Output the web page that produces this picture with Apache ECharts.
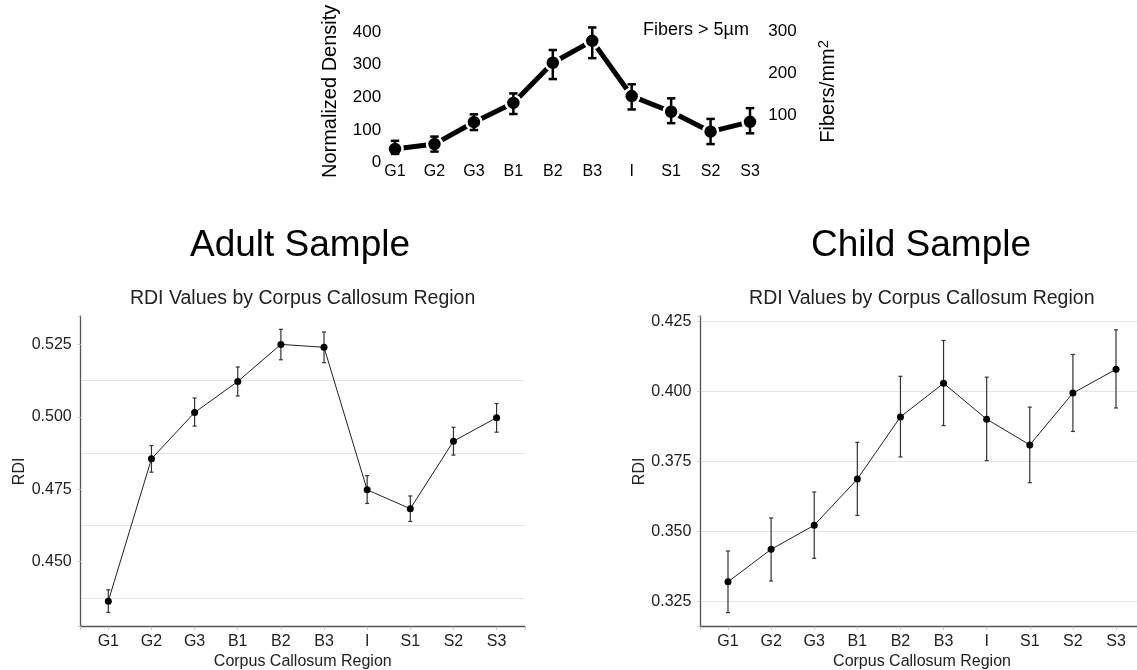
<!DOCTYPE html>
<html lang="en">
<head>
    <meta charset="UTF-8">
    <script src="https://cdn.jsdelivr.net/npm/echarts@6/dist/echarts.min.js"></script>
    <title>RDI by Corpus Callosum Region</title>
    <style>
        html, body { margin: 0; padding: 0; background: #fff; }
        #main { width: 1137px; height: 670px; }
    </style>
</head>
<body>
<div id="main"></div>
<script>
    // regions along the corpus callosum
    var regions = ['G1', 'G2', 'G3', 'B1', 'B2', 'B3', 'I', 'S1', 'S2', 'S3'];

    // top panel: fibers > 5um, normalized density
    var fiberDensity = [42, 57, 124, 183, 306, 373, 204, 156, 95, 125];
    var fiberLow = [27, 34, 100, 149, 256, 320, 163, 121, 57, 90];
    var fiberHigh = [67, 80, 148, 212, 345, 414, 240, 197, 134, 167];

    // adult sample RDI
    var adultRdi = [0.4364, 0.4855, 0.5015, 0.5122, 0.5250, 0.5240, 0.4748, 0.4683, 0.4916, 0.4997];
    var adultLow = [0.4325, 0.4809, 0.4968, 0.5072, 0.5197, 0.5187, 0.4701, 0.4639, 0.4868, 0.4947];
    var adultHigh = [0.4403, 0.4901, 0.5065, 0.5172, 0.5302, 0.5293, 0.4797, 0.4727, 0.4964, 0.5046];

    // child sample RDI
    var childRdi = [0.3321, 0.3437, 0.3523, 0.3688, 0.3910, 0.4030, 0.3902, 0.3810, 0.3995, 0.4080];
    var childLow = [0.3211, 0.3324, 0.3405, 0.3558, 0.3767, 0.3879, 0.3754, 0.3675, 0.3858, 0.3942];
    var childHigh = [0.3431, 0.3549, 0.3642, 0.3819, 0.4055, 0.4183, 0.4052, 0.3945, 0.4133, 0.4221];

    var font = 'Liberation Sans, Arial, Helvetica, sans-serif';

    function points(vals) {
        return vals.map(function (v, i) { return [i, v]; });
    }
    function bars(lo, hi) {
        return lo.map(function (v, i) { return [i, v, hi[i]]; });
    }
    function regionLabel(v) {
        var i = Math.round(v);
        return (Math.abs(v - i) < 1e-6 && regions[i]) ? regions[i] : '';
    }
    function stepLabel(step, digits) {
        return function (v) {
            var k = Math.round(v / step);
            return Math.abs(v / step - k) < 1e-6 ? v.toFixed(digits) : '';
        };
    }

    // error bars drawn with the axes' own coord()
    function errorBar(cap, width, color) {
        return function (params, api) {
            var top = api.coord([api.value(0), api.value(2)]);
            var bot = api.coord([api.value(0), api.value(1)]);
            var st = { stroke: color, lineWidth: width };
            return {
                type: 'group',
                children: [
                    { type: 'line', shape: { x1: top[0], y1: top[1], x2: bot[0], y2: bot[1] }, style: st },
                    { type: 'line', shape: { x1: top[0] - cap, y1: top[1], x2: top[0] + cap, y2: top[1] }, style: st },
                    { type: 'line', shape: { x1: bot[0] - cap, y1: bot[1], x2: bot[0] + cap, y2: bot[1] }, style: st }
                ]
            };
        };
    }

    // x axis for the RDI panels
    function rdiXAxis(grid, max) {
        return {
            type: 'value', gridIndex: grid, min: -0.64, max: max,
            minInterval: 1, maxInterval: 1,
            name: 'Corpus Callosum Region', nameLocation: 'middle', nameGap: 27,
            nameTextStyle: { fontFamily: font, fontSize: 16, color: '#222' },
            axisLine: { show: true, onZero: false, lineStyle: { color: '#555', width: 1.3 } },
            axisTick: { show: true, length: 3, lineStyle: { color: '#c8c8c8' } },
            axisLabel: { margin: 7, fontFamily: font, fontSize: 16, color: '#222', formatter: regionLabel },
            splitLine: { show: false }
        };
    }
    // main y axis (labels) + helper y axis (light grid lines half way between labels)
    function rdiYAxes(grid, min, max) {
        return [{
            type: 'value', gridIndex: grid, min: min, max: max,
            minInterval: 0.025, maxInterval: 0.025,
            name: 'RDI', nameLocation: 'middle', nameGap: 52,
            nameTextStyle: { fontFamily: font, fontSize: 16, color: '#222' },
            axisLine: { show: true, onZero: false, lineStyle: { color: '#555', width: 1.3 } },
            axisTick: { show: true, length: 3, lineStyle: { color: '#c8c8c8' } },
            axisLabel: { margin: 9, fontFamily: font, fontSize: 16, color: '#222', formatter: stepLabel(0.025, 3) },
            splitLine: { show: false }
        }, {
            type: 'value', gridIndex: grid, min: min, max: max,
            minInterval: 0.0125, maxInterval: 0.0125,
            axisLine: { show: false, onZero: false }, axisTick: { show: false }, axisLabel: { show: false },
            splitLine: { show: true, showMinLine: false, showMaxLine: false,
                lineStyle: { color: ['#e6e6e6', 'rgba(0,0,0,0)'], width: 1 } }
        }];
    }

    var chart = echarts.init(document.getElementById('main'));

    var option = {
        animation: false,
        backgroundColor: '#fff',
        title: [
            { text: 'Adult Sample', left: 300, top: 227, textAlign: 'center', padding: 0,
              textStyle: { fontFamily: font, fontSize: 37, fontWeight: 'normal', color: '#000' } },
            { text: 'Child Sample', left: 921, top: 227, textAlign: 'center', padding: 0,
              textStyle: { fontFamily: font, fontSize: 37, fontWeight: 'normal', color: '#000' } },
            { text: 'RDI Values by Corpus Callosum Region', left: 302.6, top: 288.5, textAlign: 'center', padding: 0,
              textStyle: { fontFamily: font, fontSize: 19.5, fontWeight: 'normal', color: '#222' } },
            { text: 'RDI Values by Corpus Callosum Region', left: 921.8, top: 288.5, textAlign: 'center', padding: 0,
              textStyle: { fontFamily: font, fontSize: 19.5, fontWeight: 'normal', color: '#222' } },
            { text: 'Fibers > 5µm', left: 643, top: 21, padding: 0,
              textStyle: { fontFamily: font, fontSize: 18, fontWeight: 'normal', color: '#000' } }
        ],
        grid: [
            { left: 383.2, right: 371.2, top: 20, bottom: 507.3, outerBoundsMode: 'none' },
            { left: 80.7, right: 612.2, top: 316, bottom: 43.3, outerBoundsMode: 'none' },
            { left: 700.4, right: -6.6, top: 316, bottom: 43.3, outerBoundsMode: 'none' }
        ],
        xAxis: [
            {
                type: 'value', gridIndex: 0, min: -0.3, max: 9.4,
                minInterval: 1, maxInterval: 1,
                axisLine: { show: false, onZero: false }, axisTick: { show: false }, splitLine: { show: false },
                axisLabel: { margin: 1, fontFamily: font, fontSize: 16, color: '#000', formatter: regionLabel }
            },
            rdiXAxis(1, 9.654),
            rdiXAxis(2, 9.64)
        ],
        yAxis: [
            {
                type: 'value', gridIndex: 0, min: 0, max: 436.8, interval: 100,
                name: 'Normalized Density', nameLocation: 'middle', nameGap: 43,
                nameTextStyle: { fontFamily: font, fontSize: 20, color: '#000' },
                axisLine: { show: false, onZero: false }, axisTick: { show: false }, splitLine: { show: false },
                axisLabel: { margin: 2, fontFamily: font, fontSize: 17, color: '#000', formatter: stepLabel(100, 0) }
            },
            {
                type: 'value', gridIndex: 0, position: 'right', min: -14.6, max: 328,
                minInterval: 100, maxInterval: 100,
                name: '{b|Fibers/mm}{s|2}', nameLocation: 'middle', nameGap: 51, nameRotate: 90,
                nameTextStyle: { fontFamily: font, fontSize: 20, color: '#000',
                    rich: { b: { fontFamily: font, fontSize: 20, color: '#000' },
                            s: { fontFamily: font, fontSize: 15, color: '#000', verticalAlign: 'top', padding: [0, 0, 9, 0] } } },
                axisLine: { show: false, onZero: false }, axisTick: { show: false }, splitLine: { show: false },
                axisLabel: { margin: 2.5, fontFamily: font, fontSize: 17, color: '#000',
                    formatter: function (v) { return v > 0 ? stepLabel(100, 0)(v) : ''; } }
            }
        ].concat(rdiYAxes(1, 0.42758, 0.5348)).concat(rdiYAxes(2, 0.31607, 0.42704)),
        series: [
            {
                type: 'line', xAxisIndex: 0, yAxisIndex: 0, z: 2,
                data: points(fiberDensity),
                symbol: 'circle', symbolSize: 15,
                lineStyle: { color: '#000', width: 5 },
                itemStyle: { color: '#000', borderColor: '#fff', borderWidth: 2.5 }
            },
            {
                type: 'custom', xAxisIndex: 0, yAxisIndex: 0, z: 3,
                data: bars(fiberLow, fiberHigh), encode: { x: 0, y: [1, 2] },
                renderItem: errorBar(4.2, 2.5, '#000')
            },
            {
                type: 'custom', xAxisIndex: 1, yAxisIndex: 2, z: 1,
                data: bars(adultLow, adultHigh), encode: { x: 0, y: [1, 2] },
                renderItem: errorBar(2, 1.2, '#333')
            },
            {
                type: 'line', xAxisIndex: 1, yAxisIndex: 2, z: 2,
                data: points(adultRdi),
                symbol: 'circle', symbolSize: 7,
                lineStyle: { color: '#222', width: 1 },
                itemStyle: { color: '#000' }
            },
            {
                type: 'custom', xAxisIndex: 2, yAxisIndex: 4, z: 1,
                data: bars(childLow, childHigh), encode: { x: 0, y: [1, 2] },
                renderItem: errorBar(2, 1.2, '#333')
            },
            {
                type: 'line', xAxisIndex: 2, yAxisIndex: 4, z: 2,
                data: points(childRdi),
                symbol: 'circle', symbolSize: 7,
                lineStyle: { color: '#222', width: 1 },
                itemStyle: { color: '#000' }
            }
        ]
    };
    chart.setOption(option);
</script>
</body>
</html>
